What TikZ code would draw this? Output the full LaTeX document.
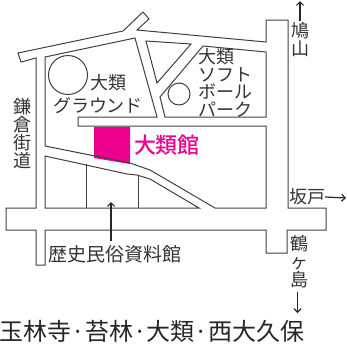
\documentclass[tikz,border=0pt]{standalone}
\usepackage{fontspec}
\setmainfont{Noto Sans CJK JP}
\newfontfamily\kanfont{Noto Sans CJK JP Medium}
\definecolor{kanpink}{HTML}{EC008C}
\usetikzlibrary{arrows.meta}
\def\tightfont#1#2{\fontsize{#1}{#2}\selectfont\lineskiplimit=-100pt\relax}
\tikzset{
	road/.style={line width=1pt, color=black!75},
	maplabel/.style={inner sep=0pt, text=black!80, font=\tightfont{18}{18}, align=center},
	pointer/.style={line width=1.2pt, color=black!85, -{Straight Barb[length=3.5pt,width=7pt]}}
}
\begin{document}
\begin{tikzpicture}[x=1pt, y=-1pt]
			%%%%% START %%%%%
			\useasboundingbox (0, 0) rectangle (347, 349);
			
			\fill[kanpink] (94, 127) -- (130, 127) -- (130, 164) -- (94, 158) -- cycle;
			
			% outer edge of the roads
			\draw[road] (45, 230) -- (266, 230) -- (266, 253) -- (287, 253) -- (287, 230) -- (326, 230) -- (326, 208) -- (288, 208) -- (288, 20) -- (266, 20) -- (266, 42) -- (137, 30) -- (149, 19) -- (143, 12) -- (123, 31) -- (18, 53) -- (21, 62) -- (36, 58) -- (36, 208) -- (6, 208) -- (6, 230) -- (36, 230) -- (36, 265) -- (45, 265) -- cycle;
			
			% blocks
			\draw[road] (45, 57) -- (135, 38) -- (157, 117) -- (78, 117) -- (78, 126) -- (266, 126) -- (266, 208) -- (215, 208) -- (150, 170) -- (130, 163) -- (45, 146) -- cycle;
			\draw[road] (146, 41) -- (191, 44) -- (157, 83) -- cycle;
			\draw[road] (165, 117) -- (160, 97) -- (203, 46) -- (266, 52) -- (266, 117) -- cycle;
			\draw[road] (45, 156) -- (127, 174) -- (137, 175) -- (150, 179) -- (199, 208) -- (45, 208) -- cycle;
			\draw[road] (86, 164) -- (86, 208);
			\draw[road] (138, 175) -- (138, 208);
			
			\draw[road] (68, 75) circle (19.5);
			\draw[road] (179, 94) circle (11);
			
			\node[maplabel] (ground) at (109, 83) {大類};
			\node[maplabel] (groundb) at (98, 106) {グラウンド};
			\node[maplabel, align=left, font=\tightfont{18}{17.5}] (park) at (225, 83) {大類\\ソフト\\ボール\\パーク};
			\node[inner sep=0pt, text=kanpink, font=\fontsize{22}{24}\selectfont\kanfont] (kan) at (167, 145) {大類館};
			\node[maplabel] (kamakura) at (22, 134) {鎌\\倉\\街\\道};
			\node[maplabel, font=\fontsize{19}{19}\selectfont] (museum) at (115, 254) {歴史民俗資料館};
			\node[maplabel] (hatoyama) at (300, 40) {鳩\\山};
			\node[maplabel] (sakado) at (307, 197) {坂戸};
			\node[maplabel] (tsuru) at (299, 262) {鶴\\ヶ\\島};
			\node[inner sep=0pt, text=black!85, font=\fontsize{24}{24}\selectfont] (town) at (152, 331) {玉林寺·苔林·大類·西大久保};
			
			\coordinate (northstart) at (300, 21);
			\coordinate (northend) at (300, 1);
			\coordinate (eastend) at (346, 198);
			\coordinate (southstart) at (297.5, 292);
			\coordinate (southend) at (297.5, 313);
			\coordinate (museumstart) at (111, 241);
			\coordinate (museumend) at (111, 202);
			
			\draw[pointer] (northstart) -- (northend);
			\draw[pointer] (sakado.east) -- (eastend);
			\draw[pointer] (southstart) -- (southend);
			\draw[pointer] (museumstart) -- (museumend);
			
			%%%%% END %%%%%
		\end{tikzpicture}
\end{document}
